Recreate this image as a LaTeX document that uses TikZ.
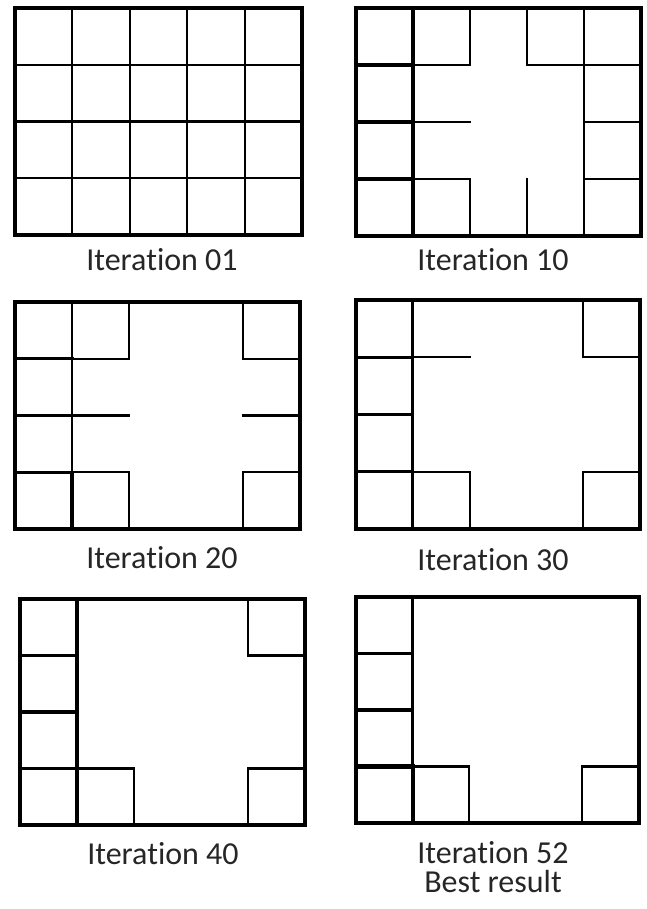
\documentclass[tikz,border=0pt]{standalone}
\usepackage{fontspec}
\setmainfont{Carlito}[Ligatures=NoCommon]
\begin{document}
\begin{tikzpicture}[
  x=1pt,y=-1pt,
  frame/.style={line width=4pt,line join=miter},
  wall/.style={line width=2.1pt,line cap=rect},
  hwall/.style={line width=3.2pt,line cap=rect},
  xwall/.style={line width=4.2pt,line cap=rect},
  lbl/.style={font=\fontsize{32}{29}\selectfont,text=black!85,anchor=base,inner sep=0pt,align=center}
]
\useasboundingbox[fill=white] (0pt,0pt) rectangle (646pt,-909pt);

% ---------- Panel 1: Iteration 01 ----------
\begin{scope}[shift={(15pt,-8pt)},x=57.4pt,y=-56.75pt]
  \foreach \i in {1,2,3,4} \draw[wall] (\i,0) -- (\i,4);
  \foreach \j in {1,2,3} \draw[wall] (0,\j) -- (5,\j);
  \draw[frame] (0,0) rectangle (5,4);
\end{scope}
\node[lbl] (t1) at (162pt,-270pt) {Iteration 01};

% ---------- Panel 2: Iteration 10 ----------
\begin{scope}[shift={(356pt,-8pt)},x=57pt,y=-57pt]
  \draw[hwall] (1,0) -- (1,4);
  \draw[wall] (2,0) -- (2,1);
  \draw[wall] (2,3) -- (2,4);
  \draw[wall] (3,0) -- (3,1);
  \draw[wall] (3,3) -- (3,4);
  \draw[wall] (4,0) -- (4,4);
  \draw[hwall] (0,1) -- (1,1);
  \draw[wall] (1,1) -- (2,1);
  \draw[wall] (3,1) -- (5,1);
  \draw[hwall] (0,2) -- (1,2);
  \draw[wall] (1,2) -- (2,2);
  \draw[wall] (4,2) -- (5,2);
  \draw[hwall] (0,3) -- (1,3);
  \draw[wall] (1,3) -- (2,3);
  \draw[wall] (4,3) -- (5,3);
  \draw[frame] (0,0) rectangle (5,4);
\end{scope}
\node[lbl] (t2) at (493pt,-270pt) {Iteration 10};

% ---------- Panel 3: Iteration 20 ----------
\begin{scope}[shift={(15pt,-302pt)},x=57pt,y=-56.75pt]
  \draw[wall] (1,0) -- (1,3);
  \draw[hwall] (1,3) -- (1,4);
  \draw[wall] (2,0) -- (2,1);
  \draw[wall] (2,3) -- (2,4);
  \draw[wall] (4,0) -- (4,1);
  \draw[wall] (4,3) -- (4,4);
  \draw[hwall] (0,1) -- (1,1);
  \draw[wall] (1,1) -- (2,1);
  \draw[wall] (4,1) -- (5,1);
  \draw[hwall] (0,2) -- (1,2);
  \draw[wall] (1,2) -- (2,2);
  \draw[wall] (4,2) -- (5,2);
  \draw[hwall] (0,3) -- (1,3);
  \draw[wall] (1,3) -- (2,3);
  \draw[wall] (4,3) -- (5,3);
  \draw[frame] (0,0) rectangle (5,4);
\end{scope}
\node[lbl] (t3) at (162pt,-568pt) {Iteration 20};

% ---------- Panel 4: Iteration 30 ----------
\begin{scope}[shift={(356pt,-300pt)},x=56.8pt,y=-57.25pt]
  \draw[hwall] (1,0) -- (1,4);
  \draw[wall] (2,3) -- (2,4);
  \draw[wall] (4,0) -- (4,1);
  \draw[wall] (4,3) -- (4,4);
  \draw[hwall] (0,1) -- (1,1);
  \draw[wall] (1,1) -- (2,1);
  \draw[wall] (4,1) -- (5,1);
  \draw[hwall] (0,2) -- (1,2);
  \draw[hwall] (0,3) -- (1,3);
  \draw[wall] (1,3) -- (2,3);
  \draw[wall] (4,3) -- (5,3);
  \draw[frame] (0,0) rectangle (5,4);
\end{scope}
\node[lbl] (t4) at (493pt,-570pt) {Iteration 30};

% ---------- Panel 5: Iteration 40 ----------
\begin{scope}[shift={(20pt,-599pt)},x=57pt,y=-56.5pt]
  \draw[hwall] (1,0) -- (1,3);
  \draw[xwall] (1,3) -- (1,4);
  \draw[wall] (2,3) -- (2,4);
  \draw[wall] (4,0) -- (4,1);
  \draw[wall] (4,3) -- (4,4);
  \draw[hwall] (0,1) -- (1,1);
  \draw[wall] (4,1) -- (5,1);
  \draw[hwall] (0,2) -- (1,2);
  \draw[hwall] (0,3) -- (1,3);
  \draw[wall] (1,3) -- (2,3);
  \draw[wall] (4,3) -- (5,3);
  \draw[frame] (0,0) rectangle (5,4);
\end{scope}
\node[lbl] (t5) at (163pt,-864pt) {Iteration 40};

% ---------- Panel 6: Iteration 52 ----------
\begin{scope}[shift={(356pt,-597pt)},x=56.6pt,y=-56.5pt]
  \draw[hwall] (1,0) -- (1,3);
  \draw[xwall] (1,3) -- (1,4);
  \draw[wall] (2,3) -- (2,4);
  \draw[wall] (4,3) -- (4,4);
  \draw[hwall] (0,1) -- (1,1);
  \draw[hwall] (0,2) -- (1,2);
  \draw[xwall] (0,3) -- (1,3);
  \draw[wall] (1,3) -- (2,3);
  \draw[wall] (4,3) -- (5,3);
  \draw[frame] (0,0) rectangle (5,4);
\end{scope}
\node[lbl] (t6) at (493pt,-863pt) {Iteration 52};
\node[lbl] (t7) at (493pt,-892pt) {Best result};
\end{tikzpicture}
\end{document}
